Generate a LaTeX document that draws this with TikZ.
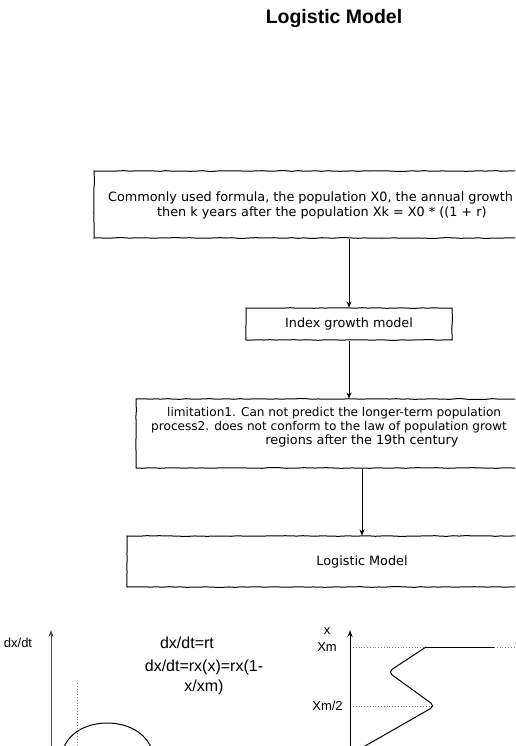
\documentclass[tikz,border=0pt]{standalone}
\usepackage{fontspec}
\setmainfont{Liberation Sans}
\newfontfamily\sketchfont{DejaVu Sans}
\usetikzlibrary{arrows.meta,decorations.pathmorphing}

\tikzset{
  sketchbox/.style={draw,line width=1pt,inner sep=0pt,
    decorate,decoration={random steps,segment length=6pt,amplitude=.35pt},
    font=\sketchfont\fontsize{12.8}{14}\selectfont},
  sketchtext/.style={inner sep=0pt,font=\sketchfont\fontsize{12.8}{14}\selectfont},
  smalltext/.style={sketchtext,font=\sketchfont\fontsize{12.1}{14}\selectfont},
  flow/.style={-{Stealth[length=6pt,width=5pt]},line width=.8pt},
  axisline/.style={-{Stealth[length=7pt,width=5pt]},line width=1pt},
  guide/.style={gray,line width=.8pt,dash pattern=on .8pt off 2pt},
  lbl/.style={inner sep=0pt,font=\fontsize{13}{15}\selectfont},
  formula/.style={inner sep=0pt,font=\fontsize{16}{20}\selectfont,align=center}
}

\begin{document}
\begin{tikzpicture}[x=1pt,y=-1pt]
  \useasboundingbox (0,0) rectangle (515,746);
  \clip (0,0) rectangle (515,746);
  \pgfmathsetseed{7}
  \node[font=\bfseries\fontsize{19.5}{22}\selectfont] (title) at (334,19) {Logistic Model};

  % flow chart
  \node[sketchbox,minimum width=510pt,minimum height=67pt] (box1) at (349,204.5) {};
  \node[sketchtext,anchor=west] (t1a) at (108,198) {Commonly used formula, the population X0, the annual growth};
  \node[sketchtext,anchor=west] (t1b) at (157,213) {then k years after the population Xk = X0 * ((1 + r)};
  \node[sketchbox,minimum width=206pt,minimum height=32pt] (box2) at (349,324) {Index growth model};
  \node[sketchbox,minimum width=452pt,minimum height=69pt] (box3) at (362,433.5) {};
  \node[smalltext,anchor=west] (t3a) at (167,413) {limitation1. Can not predict the longer-term population};
  \node[smalltext,anchor=west] (t3b) at (151,427) {process2. does not conform to the law of population growt};
  \node[sketchtext] (t3c) at (362,441) {regions after the 19th century};
  \node[sketchbox,minimum width=470pt,minimum height=51pt] (box4) at (362,561.5) {Logistic Model};

  \draw[flow] (box1.south) -- (box2.north);
  \draw[flow] (box2.south) -- (box2.south |- box3.north);
  \draw[flow] (box3.south) -- (box4.north);

  % rate curve
  \coordinate (o1) at (51,750);
  \coordinate (y1) at (51,630);
  \draw[axisline,gray!60!black] (o1) -- (y1);
  \draw[guide] (77,683) -- (77,750);
  \draw[line width=1pt] (63,750) .. controls (74,714) and (140,714) .. (152,750);
  \node[lbl] (ldx) at (18,643) {dx/dt};
  \node[formula] (frm1) at (187,643) {dx/dt=rt};
  \node[formula] (frm2) at (204,677) {dx/dt=rx(x)=rx(1-\\x/xm)};

  % growth curve
  \coordinate (o2) at (350,750);
  \coordinate (y2) at (350,630);
  \draw[axisline] (o2) -- (y2);
  \node[lbl] (lx) at (327,631) {x};
  \node[lbl] (lxm) at (327,647) {Xm};
  \node[lbl] (lxm2) at (327.5,706) {Xm/2};
  \draw[guide] (353,647) -- (426,647);
  \draw[guide] (494,647) -- (520,647);
  \draw[guide] (353,706) -- (432,706);
  \draw[line width=1pt] (426,647) -- (494,647);
  \draw[line width=1pt,rounded corners=5pt] (426,647) -- (388,672) -- (435,706) -- (358,750);
\end{tikzpicture}
\end{document}
